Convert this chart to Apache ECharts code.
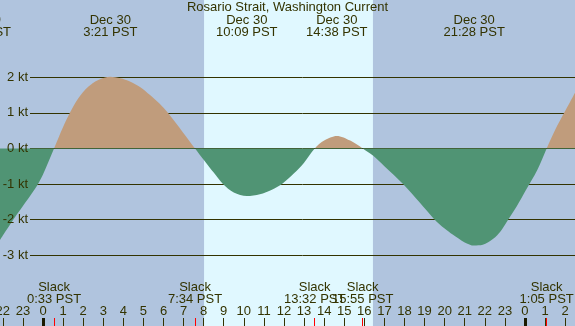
<!DOCTYPE html>
<html>
<head>
<meta charset="utf-8">
<title>Rosario Strait, Washington Current</title>
<script src="https://cdn.jsdelivr.net/npm/echarts@6/dist/echarts.min.js"></script>
<style>
	html, body { margin: 0; padding: 0; background: #b0c4de; }
	#chart { width: 575px; height: 326px; }
</style>
</head>
<body>
<div id="chart"></div>
<script>
// hours counted from Dec 30 00:00 PST, current in knots (+ flood / - ebb)
var hours = [-2.25, -2.0, -1.5, -1.0, -0.5, -0.25, 0.0, 0.55, 1.0, 1.34, 1.75, 2.25, 2.75, 3.35, 3.85, 4.33, 4.85, 5.33, 5.8, 6.22, 6.97, 7.57,
	8.02, 8.5, 8.96, 9.5, 10.15, 10.8, 11.4, 11.9, 12.5, 13.0, 13.53, 14.0, 14.63, 15.3, 15.92,
	16.43, 17.0, 17.93, 18.77, 19.47, 20.0, 20.4, 21.0, 21.47, 21.9, 22.42, 22.8, 23.17, 23.6, 24.0, 24.62, 25.08, 25.5, 26.0, 26.6];
var knots = [-2.67, -2.45, -2.02, -1.62, -1.22, -1.0, -0.73, 0.0, 0.6, 1.0, 1.4, 1.73, 1.92, 2.01, 1.97, 1.88, 1.72, 1.5, 1.26, 1.0, 0.45, 0.0,
	-0.33, -0.68, -1.0, -1.24, -1.34, -1.29, -1.16, -1.0, -0.7, -0.4, 0.0, 0.22, 0.35, 0.22, 0.0,
	-0.2, -0.5, -1.0, -1.53, -1.98, -2.25, -2.42, -2.64, -2.73, -2.71, -2.54, -2.32, -2.0, -1.62, -1.22, -0.6, 0.0, 0.52, 1.05, 1.68];

// sunrise / sunset
var sunTimes = [8.02, 16.43];

// max flood / ebb
var eventTimes = [-3.12, 3.35, 10.15, 14.63, 21.47];
var eventLabels = ['Dec 29\n20:53 PST', 'Dec 30\n3:21 PST', 'Dec 30\n10:09 PST', 'Dec 30\n14:38 PST', 'Dec 30\n21:28 PST'];

// slack water
var slackTimes = [0.55, 7.57, 13.53, 15.92, 25.08];
var slackLabels = ['Slack\n0:33 PST', 'Slack\n7:34 PST', 'Slack\n13:32 PST', 'Slack\n15:55 PST', 'Slack\n1:05 PST'];

var midnights = [0, 24];

var textColor = '#333300';
var fontFamily = 'Liberation Sans';

var chart = echarts.init(document.getElementById('chart'));

function hourAxis(extra) {
	var base = {
		type: 'value',
		gridIndex: 0,
		min: -5,
		max: 27,
		z: 4,
		position: 'bottom',
		axisLine: { show: false, onZero: false },
		splitLine: { show: false },
		axisTick: { show: false },
		axisLabel: { show: false }
	};
	return Object.assign(base, extra);
}

function knotAxis(extra) {
	var base = {
		type: 'value',
		gridIndex: 1,
		position: 'left',
		min: -3,
		max: 2,
		interval: 1,
		axisLine: { show: false, onZero: false },
		axisTick: { show: false },
		splitLine: { show: false },
		axisLabel: { show: false }
	};
	return Object.assign(base, extra);
}

var option = {
	backgroundColor: '#b0c4de',
	animation: false,
	title: {
		text: 'Rosario Strait, Washington Current',
		left: 'center',
		top: 1,
		padding: 0,
		z: 6,
		textStyle: { fontFamily: fontFamily, fontSize: 13, fontWeight: 'normal', color: textColor }
	},
	grid: [
		{ left: -57.4, right: -10.2, top: 0, bottom: 0, outerBoundsMode: 'none' },
		{ left: 30, right: 0, top: 77.2, bottom: 70.8, outerBoundsMode: 'none' }
	],
	xAxis: [
		hourAxis({
			interval: 1,
			axisTick: { show: true, inside: true, length: 8, lineStyle: { color: textColor, width: 1 } },
			axisLabel: {
				show: true, inside: true, margin: 8,
				fontFamily: fontFamily, fontSize: 13, color: textColor,
				formatter: function (v) { return ((v % 24) + 24) % 24; }
			}
		}),
		hourAxis({
			axisTick: { show: true, inside: true, length: 8, customValues: midnights, lineStyle: { color: '#1a1a00', width: 3 } }
		}),
		hourAxis({
			axisTick: { show: true, inside: true, length: 8, customValues: slackTimes, lineStyle: { color: '#ff0000', width: 1 } },
			axisLabel: {
				show: true, inside: true, margin: 21, customValues: slackTimes,
				fontFamily: fontFamily, fontSize: 13, lineHeight: 12, color: textColor,
				formatter: function (v) { return slackLabels[slackTimes.indexOf(v)]; }
			}
		}),
		hourAxis({
			position: 'top',
			axisLabel: {
				show: true, inside: true, margin: 14, customValues: eventTimes,
				fontFamily: fontFamily, fontSize: 13, lineHeight: 12, color: textColor,
				formatter: function (v) { return eventLabels[eventTimes.indexOf(v)]; }
			}
		}),
		{ type: 'value', gridIndex: 1, min: 0, max: 1, show: false }
	],
	yAxis: [
		{ type: 'value', gridIndex: 0, min: -4.989, max: 4.169, show: false },
		// grid lines: above the daylight band, below the current fill
		knotAxis({
			z: 3,
			splitLine: { show: true, lineStyle: { color: textColor, width: 1 } }
		}),
		// labels sit on top of everything
		knotAxis({
			z: 7,
			axisLabel: {
				show: true, margin: 2, fontFamily: fontFamily, fontSize: 13, color: textColor,
				formatter: function (v) { return v + ' kt'; }
			}
		})
	],
	visualMap: {
		show: false,
		type: 'piecewise',
		seriesIndex: 1,
		dimension: 1,
		pieces: [
			{ gte: -5, lte: 0, color: '#509474' },
			{ gt: 0, lte: 5, color: '#c09c7c' }
		]
	},
	series: [
		{
			name: 'daylight',
			type: 'line',
			xAxisIndex: 0,
			yAxisIndex: 0,
			z: 1,
			silent: true,
			showSymbol: false,
			lineStyle: { opacity: 0 },
			data: sunTimes.map(function (t) { return [t, 0]; }),
			markArea: {
				silent: true,
				itemStyle: { color: '#e0f8ff', opacity: 1 },
				data: [[{ xAxis: sunTimes[0] }, { xAxis: sunTimes[1] }]]
			}
		},
		{
			name: 'current',
			type: 'line',
			xAxisIndex: 0,
			yAxisIndex: 0,
			z: 5,
			smooth: 0.3,
			showSymbol: false,
			lineStyle: { opacity: 0 },
			areaStyle: { opacity: 1 },
			data: hours.map(function (h, i) { return [h, knots[i]]; })
		}
	]
};

chart.setOption(option);
</script>
</body>
</html>
